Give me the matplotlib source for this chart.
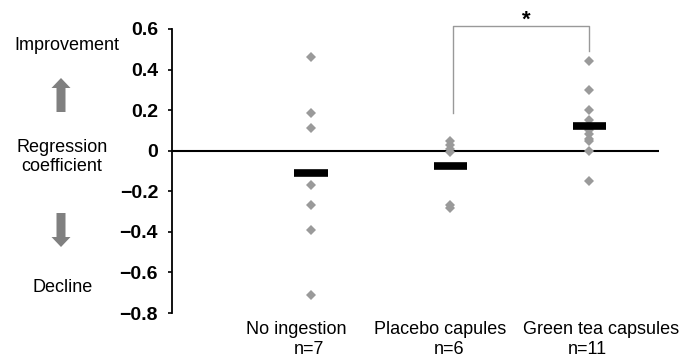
import numpy as np
import matplotlib
matplotlib.use("Agg")
import matplotlib.pyplot as plt
from matplotlib.patches import FancyArrow

plt.rcParams['font.family'] = ['Liberation Sans', 'DejaVu Sans']

# groups and individual regression coefficients
groups = ["No ingestion", "Placebo capules", "Green tea capsules"]
counts = ["n=7", "n=6", "n=11"]
no_ingestion = [0.46, 0.185, 0.114, -0.17, -0.27, -0.39, -0.71]
placebo = [0.05, 0.03, 0.01, -0.005, -0.27, -0.28]
green_tea = [0.44, 0.30, 0.20, 0.15, 0.12, 0.10, 0.08, 0.06, 0.05, 0.0, -0.15]
yticks = [0.6, 0.4, 0.2, 0, -0.2, -0.4, -0.6, -0.8]
ytick_labels = ["0.6", "0.4", "0.2", "0", "\u22120.2", "\u22120.4", "\u22120.6", "\u22120.8"]

W, H = 694, 359
fig = plt.figure(figsize=(W / 100, H / 100), dpi=100)
ax = fig.add_axes([172 / W, (H - 313) / H, (659 - 172) / W, (313 - 29) / H])

data = [no_ingestion, placebo, green_tea]
xs = [1, 2, 3]
for x, vals in zip(xs, data):
    ax.plot([x] * len(vals), vals, linestyle='none', marker='D', markersize=5,
            color='#9a9a9a', markeredgewidth=0, zorder=3)
    ax.hlines(np.mean(vals), x - 0.12, x + 0.12, color='black', lw=5.5, zorder=4)

ax.axhline(0, color='black', lw=1.5, zorder=2)

ax.set_xlim(0, 3.5)
ax.set_ylim(-0.8, 0.6)
ax.set_yticks(yticks)
ax.set_yticklabels(ytick_labels, fontweight='bold', fontsize=14)
ax.tick_params(axis='y', length=3, width=1.2, pad=7)
ax.set_xticks([])
for s in ['top', 'right', 'bottom']:
    ax.spines[s].set_visible(False)
ax.spines['left'].set_linewidth(1.3)

# significance bracket between placebo and green tea
ax.plot([2.02, 2.02, 3.0, 3.0], [0.186, 0.615, 0.615, 0.49], color='#999999',
        lw=1, clip_on=False)
ax.text(2.545, 0.645, "*", ha='center', va='center', fontsize=16, fontweight='bold')

# category labels (baselines in figure pixels)
name_x = [296, 440, 601]
n_x = [309, 449, 587]
for nx, cx, name, n in zip(name_x, n_x, groups, counts):
    fig.text(nx / W, 1 - 334 / H, name, ha='center', va='baseline', fontsize=13)
    fig.text(cx / W, 1 - 354 / H, n, ha='center', va='baseline', fontsize=13)

# left-side annotations
fig.text(67 / W, 1 - 45 / H, "Improvement", ha='center', va='center', fontsize=13)
fig.text(62 / W, 1 - 157 / H, "Regression\ncoefficient", ha='center', va='center',
         fontsize=13, linespacing=1.2)
fig.text(63 / W, 1 - 288 / H, "Decline", ha='center', va='center', fontsize=13)
fig.add_artist(FancyArrow(61 / W, 1 - 112 / H, 0, 24 / H, width=9 / W,
                          head_width=19 / W, head_length=10 / H,
                          length_includes_head=False, color='#808080', lw=0,
                          transform=fig.transFigure))
fig.add_artist(FancyArrow(61 / W, 1 - 213 / H, 0, -24 / H, width=9 / W,
                          head_width=19 / W, head_length=10 / H,
                          length_includes_head=False, color='#808080', lw=0,
                          transform=fig.transFigure))

fig.savefig("out.png", dpi=100)
